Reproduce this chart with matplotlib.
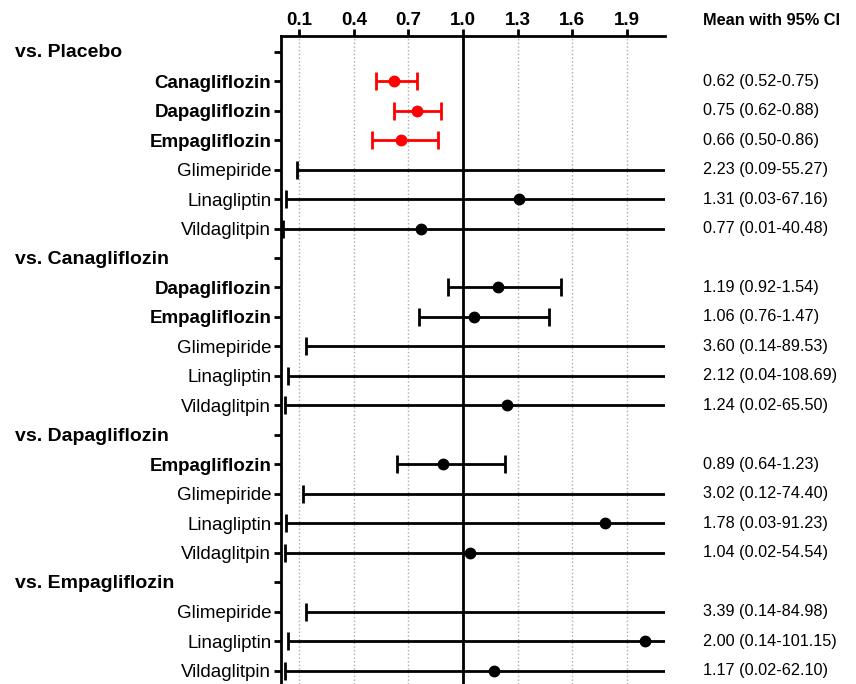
import matplotlib
matplotlib.use("Agg")
import matplotlib.pyplot as plt

plt.rcParams['font.family'] = ['Liberation Sans', 'DejaVu Sans']

groups = ["vs. Placebo", "vs. Canagliflozin", "vs. Dapagliflozin", "vs. Empagliflozin"]
drugs = [
    ["Canagliflozin", "Dapagliflozin", "Empagliflozin", "Glimepiride", "Linagliptin", "Vildaglitpin"],
    ["Dapagliflozin", "Empagliflozin", "Glimepiride", "Linagliptin", "Vildaglitpin"],
    ["Empagliflozin", "Glimepiride", "Linagliptin", "Vildaglitpin"],
    ["Glimepiride", "Linagliptin", "Vildaglitpin"],
]
means = [
    [0.62, 0.75, 0.66, 2.23, 1.31, 0.77],
    [1.19, 1.06, 3.60, 2.12, 1.24],
    [0.89, 3.02, 1.78, 1.04],
    [3.39, 2.00, 1.17],
]
lowers = [
    [0.52, 0.62, 0.50, 0.09, 0.03, 0.01],
    [0.92, 0.76, 0.14, 0.04, 0.02],
    [0.64, 0.12, 0.03, 0.02],
    [0.14, 0.04, 0.02],
]
uppers = [
    [0.75, 0.88, 0.86, 55.27, 67.16, 40.48],
    [1.54, 1.47, 89.53, 108.69, 65.50],
    [1.23, 74.40, 91.23, 54.54],
    [84.98, 101.15, 62.10],
]
ci_text = [
    ["0.62 (0.52-0.75)", "0.75 (0.62-0.88)", "0.66 (0.50-0.86)", "2.23 (0.09-55.27)", "1.31 (0.03-67.16)", "0.77 (0.01-40.48)"],
    ["1.19 (0.92-1.54)", "1.06 (0.76-1.47)", "3.60 (0.14-89.53)", "2.12 (0.04-108.69)", "1.24 (0.02-65.50)"],
    ["0.89 (0.64-1.23)", "3.02 (0.12-74.40)", "1.78 (0.03-91.23)", "1.04 (0.02-54.54)"],
    ["3.39 (0.14-84.98)", "2.00 (0.14-101.15)", "1.17 (0.02-62.10)"],
]
xticks = [0.1, 0.4, 0.7, 1.0, 1.3, 1.6, 1.9]
sglt2 = {"Canagliflozin", "Dapagliflozin", "Empagliflozin"}
XMAX = 2.11

fig = plt.figure(figsize=(8.56, 6.84), dpi=100)
ax = fig.add_axes([281 / 856, 0, (665 - 281) / 856, (684 - 36) / 684])

ytick_pos, ytick_lab, ytick_bold = [], [], []
row = 0
for g, grp in enumerate(groups):
    header_row = row
    ytick_pos.append(row)
    ytick_lab.append("")
    ytick_bold.append(False)
    row += 1
    for i, d in enumerate(drugs[g]):
        m, lo, hi = means[g][i], lowers[g][i], uppers[g][i]
        color = "red" if g == 0 and d in sglt2 else "black"
        ax.errorbar(m, row, xerr=[[m - lo], [hi - m]], fmt="none",
                    ecolor=color, elinewidth=2, capsize=6.5,
                    capthick=2, zorder=4)
        if m <= XMAX:
            ax.plot(m, row, "o", color=color, markersize=7.5, zorder=5)
        ytick_pos.append(row)
        ytick_lab.append(d)
        ytick_bold.append(d in sglt2)
        ax.text(1.10, row, ci_text[g][i], transform=ax.get_yaxis_transform(),
                ha="left", va="center", fontsize=11.7)
        row += 1
    ax.text(-0.694, header_row + 0.04, grp, transform=ax.get_yaxis_transform(),
            ha="left", va="center", fontsize=14, fontweight="bold")

nrows = row
ax.set_xlim(0, XMAX)
ax.set_ylim(nrows - 1 + 0.45, -0.53)

ax.xaxis.tick_top()
ax.set_xticks(xticks)
ax.set_xticklabels([f"{t:.1f}" for t in xticks], fontsize=13.5, fontweight="bold")
ax.tick_params(axis="x", direction="out", length=5, width=2, pad=0)
ax.set_yticks(ytick_pos)
ax.set_yticklabels(ytick_lab, fontsize=13.5)
for lab, b in zip(ax.get_yticklabels(), ytick_bold):
    if b:
        lab.set_fontweight("bold")
ax.tick_params(axis="y", direction="out", length=5, width=2, pad=2)

for s in ["right", "bottom"]:
    ax.spines[s].set_visible(False)
for s in ["left", "top"]:
    ax.spines[s].set_linewidth(2)

ax.grid(axis="x", linestyle=":", color="#aaaaaa", linewidth=1)
ax.axvline(1.0, color="black", linewidth=2, zorder=3)
ax.set_axisbelow(True)

ax.text(1.10, -1.07, "Mean with 95% CI", transform=ax.get_yaxis_transform(),
        ha="left", va="center", fontsize=11.8, fontweight="bold")

fig.savefig("out.png", dpi=100)
